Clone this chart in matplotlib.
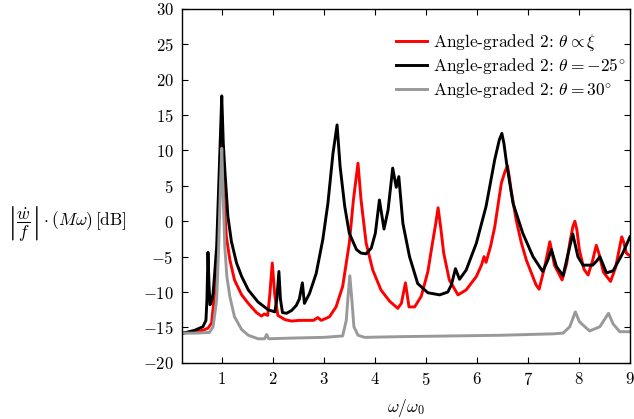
import matplotlib
matplotlib.use('Agg')
import matplotlib.pyplot as plt

plt.rcParams['font.family'] = 'serif'
plt.rcParams['font.serif'] = ['cmr10']
plt.rcParams['mathtext.fontset'] = 'cm'
plt.rcParams['axes.formatter.use_mathtext'] = True
plt.rcParams['axes.unicode_minus'] = True

# values
red_x = [0.22, 0.47, 0.63, 0.73, 0.8, 0.86, 0.9, 0.93, 0.97, 1.0, 1.02, 1.05, 1.09, 1.16, 1.25, 1.39,
         1.52, 1.68, 1.78, 1.83, 1.9, 1.94, 1.99, 2.04, 2.1, 2.24, 2.37, 2.52, 2.8, 2.88, 2.95, 3.11,
         3.24, 3.37, 3.5, 3.58, 3.67, 3.73, 3.83, 3.96, 4.12, 4.29, 4.45, 4.52, 4.6, 4.67, 4.78, 4.91,
         5.04, 5.12, 5.19, 5.24, 5.29, 5.35, 5.46, 5.63, 5.79, 5.99, 6.09, 6.14, 6.18, 6.27, 6.35, 6.48,
         6.55, 6.6, 6.64, 6.67, 6.77, 6.87, 6.97, 7.16, 7.22, 7.33, 7.39, 7.43, 7.47, 7.52, 7.67, 7.76,
         7.82, 7.88, 7.92, 7.96, 8.01, 8.1, 8.18, 8.27, 8.34, 8.39, 8.48, 8.62, 8.72, 8.8, 8.84, 8.88,
         8.93, 9.0]
red_y = [-15.8, -15.6, -15.4, -15.1, -14.4, -10.2, -5.5, -1.7, 8.7, 15.0, 8.0, 2.5, -2.2, -5.5, -8.3, -10.4,
         -11.6, -12.9, -13.4, -13.1, -13.3, -10.5, -5.9, -10.5, -13.3, -13.9, -14.1, -14.0, -14.0, -13.6, -14.0, -13.5,
         -12.1, -9.2, -3.1, 3.0, 8.2, 3.0, -3.1, -6.9, -9.7, -11.3, -12.3, -11.6, -8.7, -12.1, -12.1, -10.6,
         -7.1, -3.5, -0.5, 1.9, -0.8, -4.5, -8.3, -10.4, -9.7, -7.8, -6.2, -5.0, -5.8, -3.5, -0.8, 5.4,
         7.0, 7.8, 6.0, 4.4, 0.2, -3.0, -5.5, -9.0, -9.6, -6.4, -4.3, -2.9, -4.3, -6.2, -8.3, -6.0,
         -3.1, -0.8, 0.0, -1.2, -4.1, -6.8, -7.6, -5.5, -3.4, -4.5, -7.2, -8.5, -6.5, -3.6, -2.2, -3.0,
         -4.5, -4.9]

black_x = [0.22, 0.47, 0.63, 0.69, 0.71, 0.73, 0.75, 0.77, 0.8, 0.83, 0.86, 0.9, 0.94, 0.98, 1.0, 1.03,
           1.06, 1.12, 1.19, 1.29, 1.39, 1.52, 1.71, 1.91, 2.04, 2.08, 2.12, 2.15, 2.19, 2.27, 2.37, 2.46,
           2.52, 2.58, 2.62, 2.72, 2.85, 2.98, 3.08, 3.18, 3.26, 3.32, 3.41, 3.5, 3.64, 3.73, 3.83, 3.93,
           4.01, 4.09, 4.18, 4.26, 4.35, 4.42, 4.47, 4.55, 4.68, 4.84, 5.04, 5.27, 5.43, 5.5, 5.58, 5.66,
           5.79, 5.99, 6.18, 6.35, 6.44, 6.49, 6.53, 6.58, 6.71, 6.9, 7.1, 7.29, 7.39, 7.46, 7.56, 7.69,
           7.79, 7.88, 7.98, 8.08, 8.27, 8.35, 8.41, 8.54, 8.67, 8.86, 9.0]
black_y = [-15.85, -15.4, -14.9, -14.0, -11.0, -4.4, -9.0, -11.8, -11.3, -10.2, -7.5, -3.6, 4.9, 13.4, 17.7, 11.0,
           7.3, 0.7, -2.9, -5.9, -7.8, -9.7, -11.4, -12.5, -12.8, -11.0, -7.1, -11.0, -12.9, -13.0, -12.6, -11.9,
           -11.0, -8.7, -11.6, -10.2, -7.4, -2.6, 2.5, 9.6, 13.6, 7.7, 2.1, -1.7, -4.0, -4.5, -4.6, -3.8,
           -1.7, 3.0, -1.1, 1.6, 7.5, 4.8, 6.3, -0.3, -5.0, -8.8, -10.1, -10.4, -10.0, -9.0, -6.7, -8.2,
           -6.9, -3.1, 2.1, 8.7, 11.5, 12.4, 11.0, 8.3, 2.5, -1.7, -5.0, -7.1, -5.5, -4.0, -6.4, -7.7,
           -4.5, -1.8, -5.0, -6.2, -6.2, -5.6, -5.0, -7.3, -7.0, -4.5, -2.2]

gray_x = [0.22, 0.5, 0.76, 0.83, 0.9, 0.94, 0.97, 1.0, 1.03, 1.06, 1.1, 1.16, 1.25, 1.39, 1.52, 1.71,
          1.84, 1.88, 1.92, 2.37, 3.0, 3.37, 3.44, 3.47, 3.51, 3.55, 3.59, 3.67, 3.8, 4.5, 5.5, 6.5,
          7.5, 7.69, 7.82, 7.93, 8.01, 8.21, 8.41, 8.58, 8.67, 8.8, 9.0]
gray_y = [-15.8, -15.8, -15.7, -14.9, -11.1, -3.6, 4.0, 10.3, 3.0, -3.6, -7.8, -10.7, -13.5, -15.3, -16.1, -16.6,
          -16.6, -16.0, -16.6, -16.5, -16.4, -16.2, -14.0, -11.1, -7.7, -11.1, -14.9, -16.1, -16.4, -16.3, -16.2, -16.1,
          -15.9, -15.8, -14.9, -12.8, -14.2, -15.5, -14.9, -13.0, -14.5, -15.6, -15.6]

labels = [r'Angle-graded 2: $\theta \propto \xi$',
          r'Angle-graded 2: $\theta = -25^{\circ}$',
          r'Angle-graded 2: $\theta = 30^{\circ}$']

fig = plt.figure(figsize=(6.34, 4.19), dpi=100)
ax = fig.add_axes([0.287, 0.134, 0.7066, 0.845])

ax.plot(red_x, red_y, color='#ff0000', lw=2.1, label=labels[0])
ax.plot(black_x, black_y, color='black', lw=2.1, label=labels[1])
ax.plot(gray_x, gray_y, color='#999999', lw=2.1, label=labels[2])

ax.set_xlim(0.22, 9)
ax.set_ylim(-20, 30)
ax.set_xticks(range(1, 10))
ax.set_yticks(range(-20, 31, 5))
ax.tick_params(direction='in', top=True, right=True, labelsize=12, length=4, pad=6)
for s in ax.spines.values():
    s.set_linewidth(1.0)

ax.set_xlabel(r'$\omega/\omega_0$', fontsize=12.5, labelpad=6)
ax.set_ylabel(r'$\left|\dfrac{\dot{w}}{f}\right| \cdot (M\omega)\,[\mathrm{dB}]$',
              fontsize=12.5, rotation=0, ha='right', va='center')
ax.yaxis.set_label_coords(-0.123, 0.393)

ax.legend(loc='upper left', bbox_to_anchor=(0.462, 0.955), borderaxespad=0,
          frameon=False, fontsize=12.5, handlelength=1.8,
          labelspacing=0.22, handletextpad=0.35)

fig.savefig('out.png', dpi=100)
